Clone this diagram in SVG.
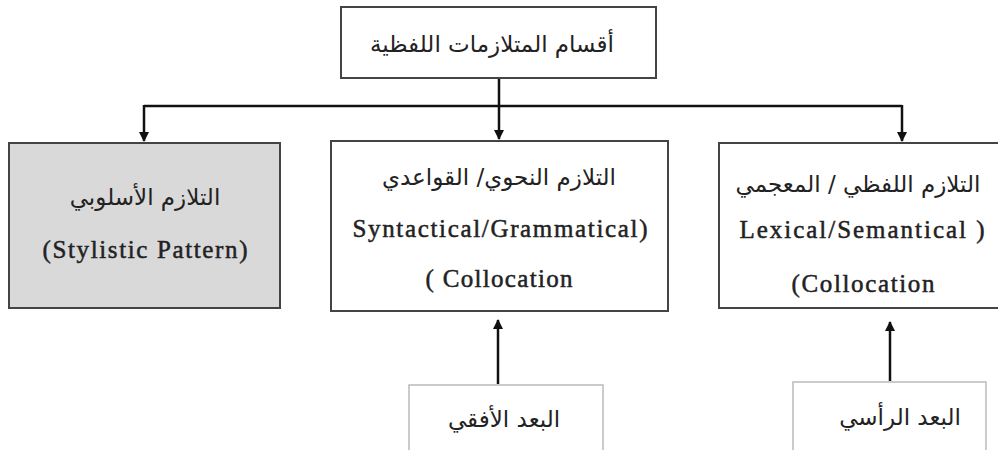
<svg xmlns="http://www.w3.org/2000/svg" width="998" height="450" viewBox="0 0 998 450">
<style>
.box{fill:#ffffff;stroke:#444444;stroke-width:2}
.grey{fill:#d9d9d9;stroke:#444444;stroke-width:2}
.light{fill:#ffffff;stroke:#bbbbbb;stroke-width:1.5}
.ar{font-family:"DejaVu Sans",sans-serif;font-size:23px;fill:#222222;text-anchor:middle;direction:rtl}
.en{font-size:25px;fill:#222222;stroke:#222222;stroke-width:0.5;text-anchor:middle}
.ln{fill:none;stroke:#111111;stroke-width:2.5}
</style>
<defs>
<marker id="ah" markerWidth="10" markerHeight="10" refX="9" refY="5" orient="auto" markerUnits="userSpaceOnUse" viewBox="0 0 10 10">
<path d="M0,0 L10,5 L0,10 Z" fill="#111111"/>
</marker>
</defs>
<rect width="998" height="450" fill="#ffffff"/>
<g id="connectors">
<line class="ln" x1="499" y1="78" x2="499" y2="106"/>
<polyline class="ln" points="144,106 902,106"/>
<line class="ln" x1="144" y1="105" x2="144" y2="141" marker-end="url(#ah)"/>
<line class="ln" x1="499" y1="106" x2="499" y2="139" marker-end="url(#ah)"/>
<line class="ln" x1="902" y1="105" x2="902" y2="141" marker-end="url(#ah)"/>
<line class="ln" x1="498" y1="384" x2="498" y2="320" marker-end="url(#ah)"/>
<line class="ln" x1="890" y1="381" x2="890" y2="322" marker-end="url(#ah)"/>
</g>
<g id="top">
<rect class="box" x="341" y="7" width="315" height="71"/>
<text class="ar" x="492" y="52">أقسام المتلازمات اللفظية</text>
</g>
<g id="stylistic">
<rect class="grey" x="9" y="143" width="271" height="165"/>
<text class="ar" x="145" y="205">التلازم الأسلوبي</text>
<text class="en" font-family="Liberation Serif, Times New Roman, serif" x="145" y="258" textLength="205" lengthAdjust="spacing">(Stylistic Pattern)</text>
</g>
<g id="syntactical">
<rect class="box" x="331" y="141" width="337" height="170"/>
<text class="ar" x="499" y="185">التلازم النحوي/ القواعدي</text>
<text class="en" font-family="Liberation Serif, Times New Roman, serif" x="500" y="237" textLength="295" lengthAdjust="spacing">Syntactical/Grammatical)</text>
<text class="en" font-family="Liberation Serif, Times New Roman, serif" x="499" y="287" textLength="147" lengthAdjust="spacing">( Collocation</text>
</g>
<g id="lexical">
<rect class="box" x="719" y="143" width="285" height="165"/>
<text class="ar" x="858" y="192">التلازم اللفظي / المعجمي</text>
<text class="en" font-family="Liberation Serif, Times New Roman, serif" x="862" y="238" textLength="245" lengthAdjust="spacing">Lexical/Semantical )</text>
<text class="en" font-family="Liberation Serif, Times New Roman, serif" x="863" y="292" textLength="143" lengthAdjust="spacing">(Collocation</text>
</g>
<g id="horizontal">
<rect class="light" x="409" y="385" width="194" height="70"/>
<text class="ar" x="504" y="427">البعد الأفقي</text>
</g>
<g id="vertical">
<rect class="light" x="793" y="382" width="193" height="73"/>
<text class="ar" x="900" y="425">البعد الرأسي</text>
</g>
</svg>
